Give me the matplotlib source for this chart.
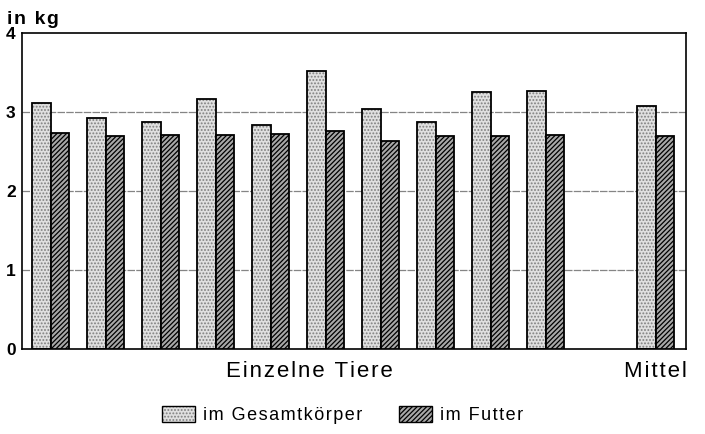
import matplotlib.pyplot as plt
from matplotlib.patches import Patch
from matplotlib.legend_handler import HandlerTuple
import numpy as np

plt.rcParams['font.family'] = ['Liberation Sans', 'DejaVu Sans']
plt.rcParams['hatch.linewidth'] = 0.9

# values (kg)
gesamt = [3.11, 2.92, 2.87, 3.16, 2.84, 3.52, 3.04, 2.87, 3.25, 3.27, 3.07]
futter = [2.73, 2.70, 2.71, 2.71, 2.72, 2.76, 2.63, 2.70, 2.70, 2.71, 2.69]
# ten animals, a gap, then the mean
pos = [0, 1, 2, 3, 4, 5, 6, 7, 8, 9, 11]
group_labels = ['Einzelne Tiere', 'Mittel']
group_pos = [4.7, 11]
legend_labels = ['im Gesamtkörper', 'im Futter']

light_face = '#e0e0e0'
light_dots = '#808080'
dark_face = '#a8a8a8'


def spaced(s):
    # the printed original uses wide letter spacing
    return '\u200a'.join(s)


fig = plt.figure(figsize=(7.05, 4.34), dpi=100)
ax = fig.add_axes([0.0312, 0.196, 0.942, 0.728])

x = np.array(pos, dtype=float)
w = 0.336

# light bars: grey stipple, then a black outline on top
ax.bar(x - w / 2, gesamt, w, color=light_face, edgecolor=light_dots,
       hatch='.....', linewidth=0, zorder=2)
ax.bar(x - w / 2, gesamt, w, fill=False, edgecolor='black', linewidth=1.3, zorder=3)

ax.bar(x + w / 2, futter, w, color=dark_face, edgecolor='black',
       hatch='///////', linewidth=1.3, zorder=3)

ax.set_xlim(-0.52, 11.55)
ax.set_ylim(0, 4)
ax.set_yticks([0, 1, 2, 3, 4])
ax.set_yticklabels(['0', '1', '2', '3', '4'], fontsize=12.5, fontweight='bold')
ax.tick_params(axis='y', length=0, pad=4.5)
ax.set_xticks(group_pos)
ax.set_xticklabels([spaced(s) for s in group_labels], fontsize=16)
ax.tick_params(axis='x', length=0, pad=9)

for v in [1, 2, 3]:
    ax.axhline(v, color='#858585', linewidth=0.9, linestyle=(0, (6, 1)), zorder=1)

for s in ax.spines.values():
    s.set_linewidth(1.2)

fig.text(0.01, 0.955, spaced('in kg'), fontsize=14, fontweight='bold', ha='left', va='center')

h_light = (Patch(facecolor=light_face, edgecolor=light_dots, hatch='.....', linewidth=0),
           Patch(fill=False, edgecolor='black', linewidth=1.0))
h_dark = Patch(facecolor=dark_face, edgecolor='black', hatch='///////', linewidth=1.0)
fig.legend([h_light, h_dark], [spaced(s) for s in legend_labels],
           handler_map={tuple: HandlerTuple(ndivide=1, pad=0)},
           loc='center', bbox_to_anchor=(0.486, 0.043), ncol=2, frameon=False,
           fontsize=13, handlelength=1.85, handleheight=1.0, handletextpad=0.45,
           columnspacing=2.0)

fig.savefig('out.png', dpi=100)
